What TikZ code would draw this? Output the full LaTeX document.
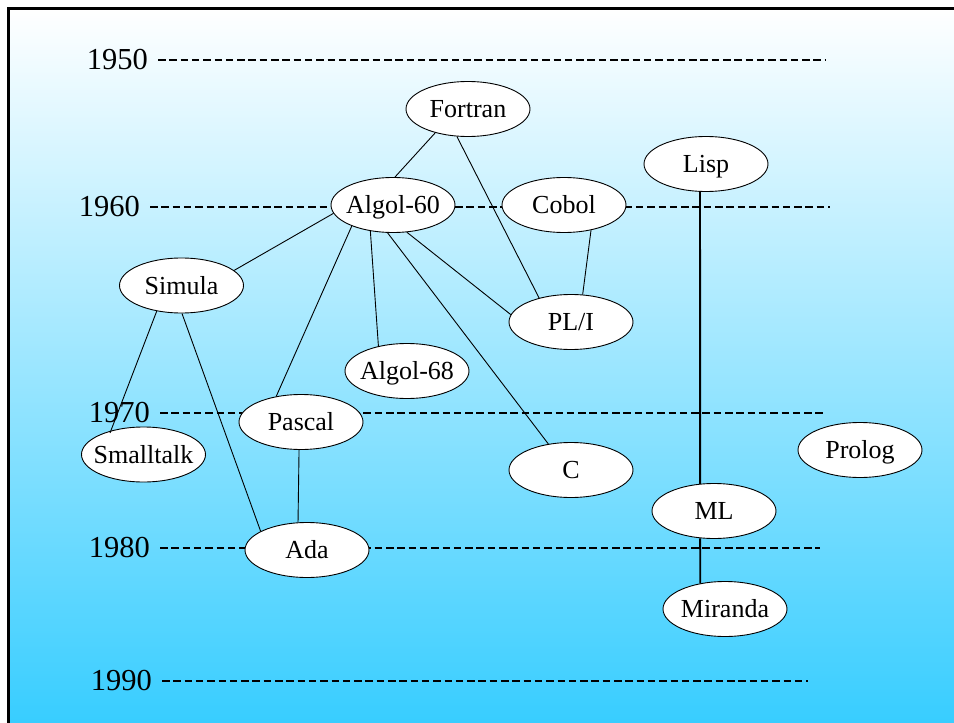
\documentclass[tikz,border=0pt]{standalone}
\usepackage{fontspec}
\setmainfont{Liberation Serif}
\usetikzlibrary{shapes.geometric}
\definecolor{skyend}{RGB}{51,204,255}
\tikzset{
lang/.style={ellipse, draw, fill=white, line width=0.9pt,
  minimum width=124pt, minimum height=55pt, inner sep=0pt,
  font=\fontsize{26}{30}\selectfont, text height=22pt, text depth=4.8pt,
  execute at begin node={\hbox to 0pt\bgroup\hss},
  execute at end node={\hss\egroup}},
year/.style={anchor=east, inner xsep=10pt, inner ysep=0pt,
  font=\fontsize{30.5}{36}\selectfont},
yearline/.style={line width=1.8pt, dash pattern=on 7.5pt off 3.8pt},
link/.style={line width=0.9pt},
thicklink/.style={line width=1.8pt}
}

\begin{document}
\begin{tikzpicture}[x=1pt, y=-1pt]
\useasboundingbox (0,0) rectangle (954,723);
\fill[white] (0,0) rectangle (954,723);
\clip (0,0) rectangle (954,723);
\draw[line width=3pt, top color=white, bottom color=skyend] (8.5,8.5) rectangle (975,740);

% time axis
\node[year] (y1950) at (158,60) {1950};
\node[year] (y1960) at (150,207) {1960};
\node[year] (y1970) at (160,413) {1970};
\node[year] (y1980) at (160,548) {1980};
\node[year] (y1990) at (162,681) {1990};
\coordinate (e1950) at (825,60);
\coordinate (e1960) at (830,207);
\coordinate (e1970) at (826,413);
\coordinate (e1980) at (820,548);
\coordinate (e1990) at (808,681);
\draw[yearline] (y1950.east) -- (e1950);
\draw[yearline] (y1960.east) -- (e1960);
\draw[yearline] (y1970.east) -- (e1970);
\draw[yearline] (y1980.east) -- (e1980);
\draw[yearline] (y1990.east) -- (e1990);

% languages
\node[lang] (fortran) at (468,109) {Fortran};
\node[lang] (lisp) at (706,164) {Lisp};
\node[lang] (algol60) at (393,205) {Algol-60};
\node[lang] (cobol) at (564,205) {Cobol};
\node[lang] (simula) at (181.5,285.5) {Simula};
\node[lang] (pli) at (571,322) {PL/I};
\node[lang] (algol68) at (407,371) {Algol-68};
\node[lang] (pascal) at (301,422) {Pascal};
\node[lang] (smalltalk) at (143.5,454.5) {Smalltalk};
\node[lang] (c) at (571,470) {C};
\node[lang] (prolog) at (860,450) {Prolog};
\node[lang] (ml) at (714,511) {ML};
\node[lang] (ada) at (307,550) {Ada};
\node[lang] (miranda) at (725,609) {Miranda};

% descent
\draw[link] (fortran.216) -- (algol60.86);
\draw[link] (fortran.248) -- (pli.143);
\draw[link] (algol60.188) -- (simula.16);
\draw[link] (algol60.207) -- (pascal.134);
\draw[link] (algol60.229) -- (algol68.139);
\draw[link] (algol60.259) -- (c.131);
\draw[link] (algol60.297) -- (pli.173);
\draw[link] (cobol.317) -- (pli.67);
\draw[link] (simula.226) -- ([shift={(-33.5pt,21.5pt)}]smalltalk.center);
\draw[link] (simula.271) -- (ada.158);
\draw[link] (pascal.266) -- (ada.108);
\draw[thicklink] (lisp.258) -- (ml.117);
\draw[thicklink] (ml.243) -- (miranda.134);
\end{tikzpicture}
\end{document}
